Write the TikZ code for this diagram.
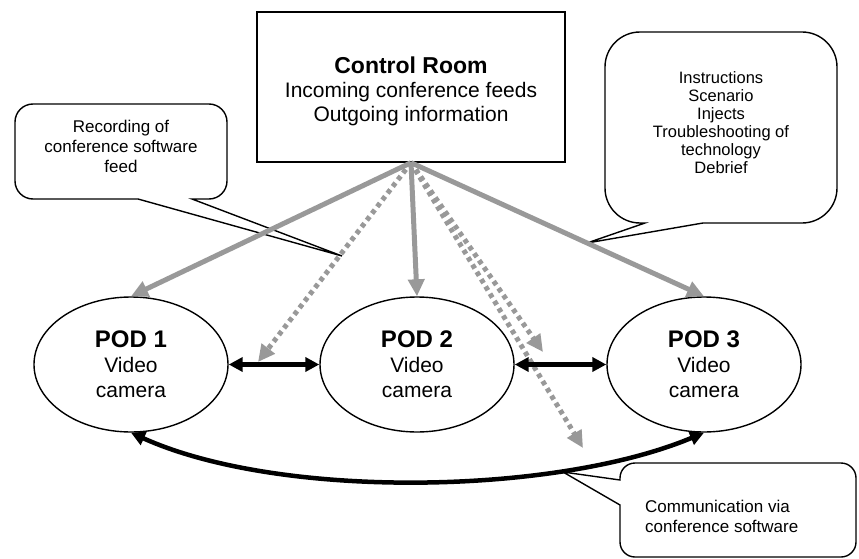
\documentclass[tikz,border=0pt]{standalone}
\usepackage{fontspec}
\setmainfont{Liberation Sans}
\usetikzlibrary{arrows.meta,shapes.geometric}
\definecolor{feedgray}{RGB}{153,153,153}
\tikzset{
  outline/.style={draw=black, line width=1.4pt},
  crbox/.style={outline, rectangle, minimum width=308pt, minimum height=150pt, inner sep=0pt},
  crtext/.style={align=center, inner sep=0pt, anchor=north, font=\fontsize{21}{24}\selectfont},
  pod/.style={outline, ellipse, minimum width=194pt, minimum height=135pt, inner sep=0pt,
              align=center, font=\fontsize{21}{25}\selectfont},
  feed/.style={draw=feedgray, line width=5pt, -{Triangle[length=17pt,width=16pt]}},
  dotfeed/.style={feed, dash pattern=on 4.5pt off 4pt},
  link/.style={draw=black, line width=4.5pt,
               {Triangle[length=14pt,width=14pt]}-{Triangle[length=14pt,width=14pt]}},
  callout/.style={draw=black, line width=1.4pt, fill=white},
  notetext/.style={align=center, inner sep=0pt, anchor=north, font=\fontsize{17}{20}\selectfont},
}
\begin{document}
\begin{tikzpicture}[x=1pt, y=-1pt]
\useasboundingbox (0,0) rectangle (859,559);

% speech-bubble notes: rounded box corners, sharp pointer
\draw[callout] (192,199) [rounded corners=18pt] -- (227,199) -- (227,104) -- (15,104)
  -- (15,199) [sharp corners] -- (138,199) -- (342,256) -- cycle;
\node[notetext] (recnote) at (121,119.6) {Recording of\\conference software\\feed};

\draw[callout] (703,223) [rounded corners=35pt] -- (837,223) -- (837,32) -- (605,32)
  -- (605,223) [sharp corners] -- (645,223) -- (587,243) -- cycle;
\node[notetext, font=\fontsize{16.5}{18}\selectfont] (infonote) at (721,71)
  {Instructions\\Scenario\\Injects\\Troubleshooting of\\technology\\Debrief};

\draw[callout] (620,505) [rounded corners=15pt] -- (620,557) -- (856,557) -- (856,463)
  -- (620,463) [sharp corners] -- (620,480) -- (563,472) -- cycle;
\node[notetext, align=left, anchor=north west] (comnote) at (645,499.6)
  {Communication via\\conference software};

% control room and pods
\node[crbox] (cr) at (411,87) {};
\node[crtext] (crlabel) at (411,57)
  {{\fontsize{23}{26}\selectfont\bfseries Control Room}\\Incoming conference feeds\\Outgoing information};

\node[pod] (p1) at (131,364.5) {{\fontsize{24}{26}\selectfont\bfseries POD 1}\\Video\\camera};
\node[pod] (p2) at (417,364.5) {{\fontsize{24}{26}\selectfont\bfseries POD 2}\\Video\\camera};
\node[pod] (p3) at (704,364.5) {{\fontsize{24}{26}\selectfont\bfseries POD 3}\\Video\\camera};

% free ends of the recorded feeds
\coordinate (rec1) at (258,362);
\coordinate (rec2) at (543,352);
\coordinate (rec3) at (583,448);

% feeds from the control room
\draw[feed] (cr.south) -- (p1.north);
\draw[feed] (cr.south) -- (p2.north);
\draw[feed] (cr.south) -- (p3.north);
\draw[dotfeed] (cr.south) -- (rec1);
\draw[dotfeed] (cr.south) -- (rec2);
\draw[dotfeed] (cr.south) -- (rec3);

% links between pods
\draw[link] (p1.east) -- (p2.west);
\draw[link] (p2.east) -- (p3.west);
\draw[link] (p1.south) .. controls (280,500) and (555,495) .. (p3.south);
\end{tikzpicture}
\end{document}
